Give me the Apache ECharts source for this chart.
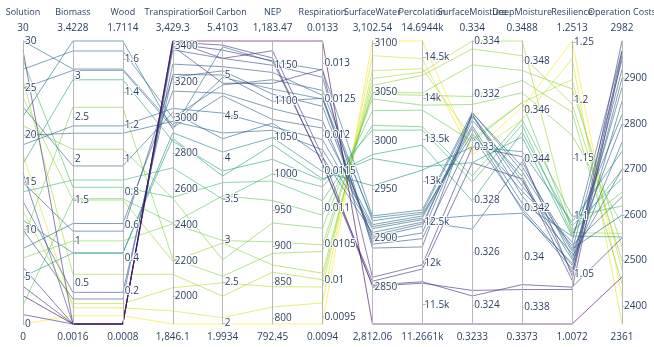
<!DOCTYPE html>
<html>
<head>
<meta charset="utf-8">
<script src="https://cdn.jsdelivr.net/npm/echarts@6/dist/echarts.min.js"></script>
<style>
html,body{margin:0;padding:0;background:#fff;}
#chart{width:654px;height:347px;}
</style>
</head>
<body>
<div id="chart"></div>
<script>
// Axis definitions
const dimNames = ['Solution','Biomass','Wood','Transpiration','Soil Carbon','NEP','Respiration','SurfaceWater','Percolation','SurfaceMoisture','DeepMoisture','Resilience','Operation Costs'];
const axisMin = [0,0.0016,0.0008,1846.1,1.9934,792.45,0.0094,2812.06,11266.1,0.3233,0.3373,1.0072,2361];
const axisMax = [30,3.4228,1.7114,3429.3,5.4103,1183.47,0.0133,3102.54,14694.4,0.334,0.3488,1.2513,2982];
const minLabels = ['0','0.0016','0.0008','1,846.1','1.9934','792.45','0.0094','2,812.06','11.2661k','0.3233','0.3373','1.0072','2361'];
const maxLabels = ['30','3.4228','1.7114','3,429.3','5.4103','1,183.47','0.0133','3,102.54','14.6944k','0.334','0.3488','1.2513','2982'];
const tickValues = [
  [0,5,10,15,20,25,30],
  [0.5,1,1.5,2,2.5,3],
  [0.2,0.4,0.6,0.8,1,1.2,1.4,1.6],
  [2000,2200,2400,2600,2800,3000,3200,3400],
  [2,2.5,3,3.5,4,4.5,5],
  [800,850,900,950,1000,1050,1100,1150],
  [0.0095,0.01,0.0105,0.011,0.0115,0.012,0.0125,0.013],
  [2850,2900,2950,3000,3050,3100],
  [11500,12000,12500,13000,13500,14000,14500],
  [0.324,0.326,0.328,0.33,0.332,0.334],
  [0.338,0.34,0.342,0.344,0.346,0.348],
  [1.05,1.1,1.15,1.2,1.25],
  [2400,2500,2600,2700,2800,2900]
];

// One entry per solution (ordered by surface water, high to low)
const solution     = [0,18,12,26,24,9,7,21,2,28,14,17,5,11,22,30,27,25,19,20,23,8,15,13,10,16,6,4,1,29,3];
const biomass      = [0.102,0.198,0.248,0.602,1.5,2.622,1.006,2.114,1.516,1.654,1.742,2.954,0.86,0.86,3.4228,3.084,3.302,3.068,2.396,2.308,1.912,1.216,1.124,0.384,0.304,0.0016,0.0016,0.0016,0.0016,0.0016,0.0016];
const wood         = [0.051,0.099,0.124,0.301,0.75,1.311,0.503,1.057,0.758,0.827,0.871,1.477,0.43,0.43,1.7114,1.542,1.651,1.534,1.198,1.154,0.956,0.608,0.562,0.192,0.152,0.0008,0.0008,0.0008,0.0008,0.0008,0.0008];
const transpiration= [1846.1,1919,2049,2124,2198,2210,2407,2549,2410,2555,2720,2869,2884,2916,2935,2960,3000,2945,3052,2980,3030,3149,3227,3242,3300,3380,3400,3415,3424,3429.3,3429.3];
const soilCarbon   = [1.9934,2.07,2.49,2.33,2.97,2.57,3.0,2.77,3.54,3.7,3.5,3.84,3.78,4.07,5.34,4.97,4.88,4.75,4.54,4.3,4.23,4.78,5.05,5.0,5.1,5.2,4.9,5.3,5.36,5.2,5.4103];
const nep          = [792.45,816,844,864,874,890,906,932,963,990,1000,1020,1040,1050,1155,1117,1130,1075,1065,1060,1070,1090,1110,1100,1140,1150,1125,1156,1160,1170,1183.47];
const respiration  = [0.0094,0.00969,0.00991,0.01001,0.0101,0.0104,0.01049,0.01072,0.0109,0.0111,0.01129,0.01138,0.0114,0.0115,0.0129,0.0125,0.01262,0.0121,0.01194,0.0118,0.0117,0.0122,0.0124,0.01251,0.01255,0.0128,0.01291,0.01161,0.0116,0.01171,0.0133];
const surfaceWater = [3102.54,3087.5,3072,3064,3057,3050,3048,3043,3031,3016,3011,2986,2982,2954,2923,2921,2918,2914,2912,2910,2906,2903,2901,2897,2894,2890,2860,2856,2852,2851,2812.06];
const percolation  = [14694.4,14480,14360,14318,14278,14065,14037,13917,13857,13655,13615,13433,13171,13131,12648,12620,12600,12575,12551,12530,12500,12480,12450,12370,12300,12200,11983,11932,11778,11760,11266.1];
const surfaceMoist = [0.3298,0.3297,0.3303,0.334,0.3337,0.3331,0.3319,0.3316,0.3302,0.3289,0.32867,0.32795,0.3294,0.33,0.3313,0.3312,0.3305,0.3308,0.3307,0.3274,0.32689,0.331,0.33122,0.33116,0.3304,0.33128,0.33,0.3294,0.32436,0.32457,0.3233];
const deepMoist    = [0.3461,0.3456,0.3463,0.3488,0.3482,0.3476,0.3472,0.3467,0.3463,0.3456,0.3454,0.3451,0.3449,0.3443,0.3435,0.3431,0.3427,0.3422,0.3419,0.3418,0.3439,0.3433,0.3425,0.3429,0.342,0.3437,0.3441,0.3432,0.3389,0.3387,0.3373];
const resilience   = [1.2513,1.236,1.218,1.086,1.197,1.21,1.19,1.17,1.088,1.1,1.085,1.092,1.083,1.095,1.07,1.063,1.078,1.083,1.055,1.06,1.065,1.052,1.068,1.075,1.058,1.072,1.049,1.045,1.039,1.037,1.0072];
const opCosts      = [2420,2361,2480,2560,2500,2530,2450,2580,2650,2620,2700,2680,2552,2740,2940,2880,2960,2820,2900,2760,2700,2850,2800,2640,2920,2600,2982,2960,2550,2950,2464];

const columns = [solution,biomass,wood,transpiration,soilCarbon,nep,respiration,surfaceWater,percolation,surfaceMoist,deepMoist,resilience,opCosts];
const rows = solution.map((_, r) => columns.map(c => c[r]));

const viridis = ['#440154','#482878','#3e4989','#31688e','#26828e','#1f9e89','#35b779','#6ece58','#b5de2b','#fde725'];
const textColor = '#2a3f5f';
const gridLeft = 23, gridRight = 32, gridTop = 41, gridBottom = 23;
const W = 654, H = 347;

function fmtTick(dim, v) {
  if (dim === 8) return (v / 1000) + 'k';
  return String(v);
}

const parallelAxis = dimNames.map((name, i) => ({
  dim: i,
  name: '{n|' + name + '}\n{v|' + maxLabels[i] + '}',
  nameLocation: 'end',
  nameGap: 6,
  nameTruncate: {maxWidth: 300},
  nameTextStyle: {
    rich: {
      n: {fontFamily: 'Open Sans', fontSize: 9, color: textColor, lineHeight: 17, align: 'center'},
      v: {fontFamily: 'Open Sans', fontSize: 10, color: textColor, lineHeight: 14, align: 'center'}
    }
  },
  min: axisMin[i],
  max: axisMax[i],
  axisLine: {lineStyle: {color: '#b8b8b8', width: 1}},
  axisTick: {show: true, customValues: tickValues[i], length: 4, lineStyle: {color: '#b8b8b8'}},
  axisLabel: {
    customValues: tickValues[i],
    formatter: v => fmtTick(i, v),
    fontFamily: 'Open Sans', fontSize: 10, color: textColor,
    textBorderColor: '#fff', textBorderWidth: 2, margin: 2
  },
  splitLine: {show: false}
}));

const step = (W - gridLeft - gridRight) / (dimNames.length - 1);
const bottomLabels = minLabels.map((t, i) => ({
  type: 'text',
  x: gridLeft + i * step,
  y: H - 10,
  style: {text: t, fill: textColor, font: '10px "Open Sans"', textAlign: 'center', textVerticalAlign: 'middle'}
}));

const chart = echarts.init(document.getElementById('chart'), null, {renderer: 'canvas'});
chart.setOption({
  animation: false,
  backgroundColor: '#fff',
  parallel: {left: gridLeft, right: gridRight, top: gridTop, bottom: gridBottom, layout: 'horizontal'},
  parallelAxis: parallelAxis,
  visualMap: {
    show: false, type: 'continuous', dimension: 7,
    min: axisMin[7], max: axisMax[7],
    inRange: {color: viridis}
  },
  graphic: bottomLabels,
  series: [{
    type: 'parallel',
    lineStyle: {width: 1, opacity: 0.62},
    data: rows
  }]
});
</script>
</body>
</html>
